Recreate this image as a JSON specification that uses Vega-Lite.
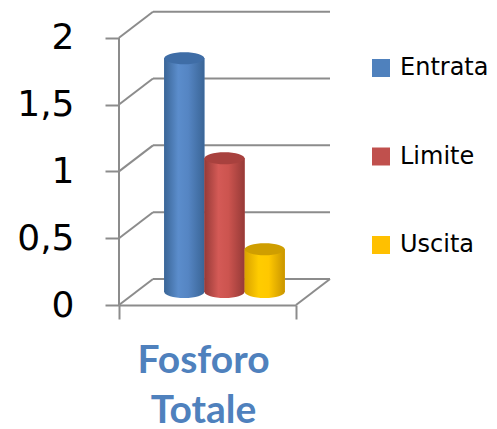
{
  "$schema": "https://vega.github.io/schema/vega-lite/v6.json",
  "width": 177,
  "height": 294,
  "autosize": "none",
  "padding": {"left": 119, "top": 11, "right": 201, "bottom": 124},
  "background": "white",
  "config": {
    "view": {"stroke": null},
    "font": "DejaVu Sans"
  },
  "datasets": {
    "serie": [
      {"serie": "Entrata", "valore": 1.75},
      {"serie": "Limite", "valore": 1.0},
      {"serie": "Uscita", "valore": 0.32}
    ],
    "griglia": [{"v": 0}, {"v": 0.5}, {"v": 1}, {"v": 1.5}, {"v": 2}]
  },
  "resolve": {"scale": {"x": "independent"}, "axis": {"x": "independent"}},
  "layer": [
    {
      "data": {"name": "griglia"},
      "layer": [
        {
          "mark": {"type": "rule", "color": "#8c8c8c", "strokeWidth": 2, "xOffset": 34, "x2Offset": 34, "yOffset": -26},
          "encoding": {
            "x": {
              "datum": 0, "type": "quantitative",
              "scale": {"domain": [0, 1], "nice": false},
              "axis": {
                "values": [0, 1], "labels": false, "grid": false,
                "tickSize": 14, "tickColor": "#8c8c8c", "tickWidth": 2,
                "domainColor": "#8c8c8c", "domainWidth": 2,
                "title": ["Fosforo", "Totale"], "titleFont": "Lato", "titleFontSize": 39,
                "titleFontWeight": "bold", "titleColor": "#4F81BD",
                "titlePadding": 21, "titleLineHeight": 50, "titleX": 84
              }
            },
            "x2": {"datum": 1},
            "y": {
              "field": "v", "type": "quantitative",
              "scale": {"domain": [0, 2.2], "nice": false, "zero": true},
              "axis": {
                "values": [0, 0.5, 1, 1.5, 2], "format": ".1~f", "labelExpr": "replace(datum.label, '.', ',')", "grid": false, "domain": false,
                "tickSize": 14, "tickColor": "#8c8c8c", "tickWidth": 2,
                "labelFontSize": 36, "labelColor": "#000000", "labelPadding": 31,
                "title": null
              }
            }
          }
        },
        {
          "mark": {"type": "rule", "color": "#8c8c8c", "strokeWidth": 2, "x2Offset": 34, "y2Offset": -26},
          "encoding": {
            "x": {"datum": 0, "type": "quantitative"},
            "x2": {"datum": 0},
            "y": {"field": "v", "type": "quantitative"},
            "y2": {"field": "v"}
          }
        },
        {
          "transform": [{"filter": "datum.v === 0"}],
          "mark": {"type": "rule", "color": "#8c8c8c", "strokeWidth": 2, "x2Offset": 34, "y2Offset": -26},
          "encoding": {
            "x": {"datum": 1, "type": "quantitative"},
            "x2": {"datum": 1},
            "y": {"field": "v", "type": "quantitative"},
            "y2": {"field": "v"}
          }
        },
        {
          "transform": [{"filter": "datum.v === 0"}],
          "mark": {"type": "rule", "color": "#8c8c8c", "strokeWidth": 2},
          "encoding": {
            "x": {"datum": 0, "type": "quantitative"},
            "y": {"field": "v", "type": "quantitative"},
            "y2": {"datum": 2}
          }
        }
      ]
    },
    {
      "data": {"name": "serie"},
      "layer": [
        {
          "mark": {"type": "bar", "xOffset": 17, "yOffset": -13, "y2Offset": -13},
          "encoding": {
            "x": {"field": "serie", "type": "nominal", "scale": {"paddingInner": 0, "paddingOuter": 0.7}, "axis": null},
            "y": {"field": "valore", "type": "quantitative", "scale": {"domain": [0, 2.2], "nice": false}},
            "color": {
              "field": "serie", "type": "nominal",
              "scale": {"domain": ["Entrata", "Limite", "Uscita"], "range": ["#4F81BD", "#C0504D", "#FFC000"]},
              "legend": {
                "title": null, "orient": "none", "legendX": 250, "legendY": 45,
                "symbolType": "square", "symbolSize": 324, "symbolStrokeWidth": 0,
                "labelFontSize": 24, "labelColor": "#000000", "labelOffset": 7,
                "rowPadding": 64.5
              }
            }
          }
        },
        {
          "transform": [{"filter": "datum.serie === 'Entrata'"}],
          "layer": [
            {
              "mark": {"type": "point", "shape": "M-1,0A1,0.3 0 1,0 1,0A1,0.3 0 1,0 -1,0Z", "size": 1600, "filled": true, "opacity": 1, "strokeWidth": 0, "xOffset": 17, "yOffset": -13,
                "color": {"gradient": "linear", "x1": 0, "x2": 1, "y1": 0, "y2": 0, "stops": [{"offset": 0, "color": "#3a6596"}, {"offset": 0.35, "color": "#5b8dcc"}, {"offset": 0.6, "color": "#5585c3"}, {"offset": 1, "color": "#3a6596"}]}},
              "encoding": {"x": {"field": "serie", "type": "nominal"}, "y": {"datum": 0, "type": "quantitative"}}
            },
            {
              "mark": {"type": "bar", "xOffset": 17, "yOffset": -13, "y2Offset": -13,
                "color": {"gradient": "linear", "x1": 0, "x2": 1, "y1": 0, "y2": 0, "stops": [{"offset": 0, "color": "#3a6596"}, {"offset": 0.35, "color": "#5b8dcc"}, {"offset": 0.6, "color": "#5585c3"}, {"offset": 1, "color": "#3a6596"}]}},
              "encoding": {"x": {"field": "serie", "type": "nominal"}, "y": {"field": "valore", "type": "quantitative"}}
            },
            {
              "mark": {"type": "point", "shape": "M-1,0A1,0.3 0 1,0 1,0A1,0.3 0 1,0 -1,0Z", "size": 1600, "filled": true, "opacity": 1, "strokeWidth": 0, "xOffset": 17, "yOffset": -13, "color": "#3f6da6"},
              "encoding": {"x": {"field": "serie", "type": "nominal"}, "y": {"field": "valore", "type": "quantitative"}}
            }
          ]
        },
        {
          "transform": [{"filter": "datum.serie === 'Limite'"}],
          "layer": [
            {
              "mark": {"type": "point", "shape": "M-1,0A1,0.3 0 1,0 1,0A1,0.3 0 1,0 -1,0Z", "size": 1600, "filled": true, "opacity": 1, "strokeWidth": 0, "xOffset": 17, "yOffset": -13,
                "color": {"gradient": "linear", "x1": 0, "x2": 1, "y1": 0, "y2": 0, "stops": [{"offset": 0, "color": "#963a37"}, {"offset": 0.35, "color": "#d45a56"}, {"offset": 0.6, "color": "#cc544f"}, {"offset": 1, "color": "#963a37"}]}},
              "encoding": {"x": {"field": "serie", "type": "nominal"}, "y": {"datum": 0, "type": "quantitative"}}
            },
            {
              "mark": {"type": "bar", "xOffset": 17, "yOffset": -13, "y2Offset": -13,
                "color": {"gradient": "linear", "x1": 0, "x2": 1, "y1": 0, "y2": 0, "stops": [{"offset": 0, "color": "#963a37"}, {"offset": 0.35, "color": "#d45a56"}, {"offset": 0.6, "color": "#cc544f"}, {"offset": 1, "color": "#963a37"}]}},
              "encoding": {"x": {"field": "serie", "type": "nominal"}, "y": {"field": "valore", "type": "quantitative"}}
            },
            {
              "mark": {"type": "point", "shape": "M-1,0A1,0.3 0 1,0 1,0A1,0.3 0 1,0 -1,0Z", "size": 1600, "filled": true, "opacity": 1, "strokeWidth": 0, "xOffset": 17, "yOffset": -13, "color": "#a8413e"},
              "encoding": {"x": {"field": "serie", "type": "nominal"}, "y": {"field": "valore", "type": "quantitative"}}
            }
          ]
        },
        {
          "transform": [{"filter": "datum.serie === 'Uscita'"}],
          "layer": [
            {
              "mark": {"type": "point", "shape": "M-1,0A1,0.3 0 1,0 1,0A1,0.3 0 1,0 -1,0Z", "size": 1600, "filled": true, "opacity": 1, "strokeWidth": 0, "xOffset": 17, "yOffset": -13,
                "color": {"gradient": "linear", "x1": 0, "x2": 1, "y1": 0, "y2": 0, "stops": [{"offset": 0, "color": "#d9a200"}, {"offset": 0.35, "color": "#ffcc00"}, {"offset": 0.6, "color": "#ffc800"}, {"offset": 1, "color": "#c99500"}]}},
              "encoding": {"x": {"field": "serie", "type": "nominal"}, "y": {"datum": 0, "type": "quantitative"}}
            },
            {
              "mark": {"type": "bar", "xOffset": 17, "yOffset": -13, "y2Offset": -13,
                "color": {"gradient": "linear", "x1": 0, "x2": 1, "y1": 0, "y2": 0, "stops": [{"offset": 0, "color": "#d9a200"}, {"offset": 0.35, "color": "#ffcc00"}, {"offset": 0.6, "color": "#ffc800"}, {"offset": 1, "color": "#c99500"}]}},
              "encoding": {"x": {"field": "serie", "type": "nominal"}, "y": {"field": "valore", "type": "quantitative"}}
            },
            {
              "mark": {"type": "point", "shape": "M-1,0A1,0.3 0 1,0 1,0A1,0.3 0 1,0 -1,0Z", "size": 1600, "filled": true, "opacity": 1, "strokeWidth": 0, "xOffset": 17, "yOffset": -13, "color": "#cf9e00"},
              "encoding": {"x": {"field": "serie", "type": "nominal"}, "y": {"field": "valore", "type": "quantitative"}}
            }
          ]
        }
      ]
    }
  ]
}
